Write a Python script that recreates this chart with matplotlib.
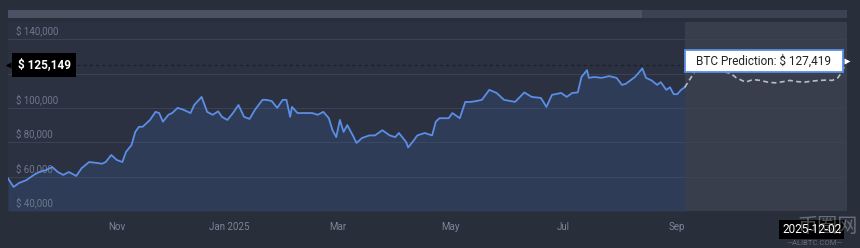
import matplotlib
matplotlib.use("Agg")
import matplotlib.pyplot as plt
import matplotlib.transforms as mtransforms
from matplotlib.patches import Rectangle
import numpy as np
import pandas as pd

plt.rcParams['font.family'] = ['Roboto', 'Noto Sans CJK SC', 'DejaVu Sans']

# ---------------- data ----------------
hist_dates = [
    "2024-09-03", "2024-09-06", "2024-09-09", "2024-09-13", "2024-09-17", "2024-09-20",
    "2024-09-24", "2024-09-27", "2024-09-30", "2024-10-03", "2024-10-06", "2024-10-10",
    "2024-10-13", "2024-10-17", "2024-10-21", "2024-10-24", "2024-10-26", "2024-10-29",
    "2024-11-01", "2024-11-04", "2024-11-06", "2024-11-09", "2024-11-11", "2024-11-13",
    "2024-11-15", "2024-11-17", "2024-11-19", "2024-11-22", "2024-11-24", "2024-11-26",
    "2024-11-29", "2024-12-01", "2024-12-04", "2024-12-07", "2024-12-11", "2024-12-13",
    "2024-12-17", "2024-12-20", "2024-12-23", "2024-12-26", "2024-12-28", "2024-12-31",
    "2025-01-03", "2025-01-06", "2025-01-09", "2025-01-12", "2025-01-15", "2025-01-19",
    "2025-01-21", "2025-01-24", "2025-01-27", "2025-01-30", "2025-02-01", "2025-02-03",
    "2025-02-04", "2025-02-07", "2025-02-11", "2025-02-15", "2025-02-18", "2025-02-21",
    "2025-02-24", "2025-02-26", "2025-02-28", "2025-03-02", "2025-03-04", "2025-03-06",
    "2025-03-09", "2025-03-11", "2025-03-14", "2025-03-18", "2025-03-21", "2025-03-25",
    "2025-03-29", "2025-04-01", "2025-04-03", "2025-04-07", "2025-04-08", "2025-04-11",
    "2025-04-13", "2025-04-17", "2025-04-21", "2025-04-23", "2025-04-25", "2025-04-30",
    "2025-05-02", "2025-05-06", "2025-05-09", "2025-05-12", "2025-05-15", "2025-05-18",
    "2025-05-22", "2025-05-26", "2025-05-30", "2025-06-05", "2025-06-10", "2025-06-14",
    "2025-06-19", "2025-06-22", "2025-06-25", "2025-06-30", "2025-07-03", "2025-07-06",
    "2025-07-09", "2025-07-11", "2025-07-14", "2025-07-15", "2025-07-18", "2025-07-22",
    "2025-07-26", "2025-07-30", "2025-08-02", "2025-08-04", "2025-08-09", "2025-08-11",
    "2025-08-13", "2025-08-15", "2025-08-18", "2025-08-21", "2025-08-23", "2025-08-26",
    "2025-08-28", "2025-08-30", "2025-09-01", "2025-09-03", "2025-09-05",
]
hist_prices = [
    59000, 54000, 56300, 58000, 61000, 62700,
    64000, 65600, 62700, 61000, 62700, 60400,
    65000, 68500, 68000, 67500, 68500, 72600,
    69700, 68500, 74400, 78400, 86000, 89000,
    89000, 91000, 93000, 97700, 97000, 92000,
    96000, 97000, 100000, 99000, 97000, 101700,
    106400, 97700, 96000, 98000, 94800, 93000,
    97000, 101700, 94800, 93600, 99000, 104700,
    104700, 104000, 100000, 104700, 104700, 94800,
    100600, 97000, 97000, 97000, 96000, 97700,
    94000, 87000, 83000, 93000, 86000, 90000,
    84000, 79600, 82500, 84000, 84000, 87000,
    84000, 83000, 85400, 80000, 77000, 81000,
    84000, 85400, 84000, 92000, 94000, 94000,
    97000, 94000, 103500, 103500, 104000, 104700,
    110500, 108700, 104700, 103500, 109000, 106400,
    105800, 100600, 107600, 108700, 106400, 108700,
    109000, 118000, 122000, 117500, 118000, 117500,
    118500, 117500, 113400, 114000, 118000, 120400,
    123000, 117500, 116000, 113400, 115000, 110500,
    112000, 108000, 108000, 110500, 112000,
]

pred_dates = [
    "2025-09-05", "2025-09-08", "2025-09-11", "2025-09-20", "2025-09-30",
    "2025-10-03", "2025-10-08", "2025-10-12", "2025-10-16", "2025-10-20",
    "2025-10-24", "2025-10-28", "2025-11-01", "2025-11-05", "2025-11-09",
    "2025-11-13", "2025-11-17", "2025-11-21", "2025-11-24", "2025-11-27",
    "2025-11-29", "2025-12-02",
]
pred_prices = [
    112000, 117000, 122000, 123000, 120000,
    117500, 115000, 116500, 116000, 115000,
    114600, 115200, 116000, 115300, 115000,
    115600, 116000, 116200, 116000, 117500,
    120500, 127419,
]

current_price = 125149
prediction_label = "BTC Prediction: $ 127,419"
current_label = "$ 125,149"
end_label = "2025-12-02"
grid_values = [40000, 60000, 80000, 100000, 120000, 140000]
ylabel_values = [40000, 60000, 80000, 100000, 140000]   # $120,000 is hidden by the tooltip
xtick_dates = ["2024-11-01", "2025-01-01", "2025-03-01", "2025-05-01", "2025-07-01", "2025-09-01"]
xtick_labels = ["Nov", "Jan 2025", "Mar", "May", "Jul", "Sep"]
x_start, x_end = "2024-09-03", "2025-12-02"

# ---------------- style ----------------
FIG_BG = "#292e3b"
AX_BG = "#2b3141"
GRID = "#3a4253"
LINE = "#5b8ee6"
PRED_BG = "#383e4c"
LABEL = "#6f788a"

hd = pd.to_datetime(hist_dates)
pdts = pd.to_datetime(pred_dates)
hp = np.array(hist_prices)
pp = np.array(pred_prices)

fig = plt.figure(figsize=(8.6, 2.48), dpi=100, facecolor=FIG_BG)
ax = fig.add_axes([8 / 860, 1 - 211 / 248, (847 - 8) / 860, (211 - 22) / 248])
ax.set_facecolor(AX_BG)

ax.set_xlim(pd.Timestamp(x_start), pd.Timestamp(x_end))
ax.set_ylim(40000, 150000)

# prediction shaded region
ax.axvspan(hd[-1], pd.Timestamp(x_end), color=PRED_BG, zorder=0.5, lw=0)

# grid lines
for v in grid_values:
    ax.axhline(v, color=GRID, lw=0.8, zorder=1)

# y labels inside plot
blend = mtransforms.blended_transform_factory(ax.transAxes, ax.transData)
for v in ylabel_values:
    ax.annotate(f"$ {v:,}", xy=(0, v), xycoords=blend, xytext=(6, 2),
                textcoords="offset points", ha="left", va="bottom",
                fontsize=7, color=LABEL, zorder=2)

# area + line
ax.fill_between(hd, hp, 40000, color="#3b5a96", alpha=0.28, lw=0, zorder=1.5)
ax.plot(hd, hp, color=LINE, lw=1.3, zorder=3, solid_joinstyle="round")

# current price dashed line
ax.plot([pd.Timestamp(x_start), hd[-1]], [current_price, current_price],
        color="#1b1f29", lw=0.9, ls=(0, (2.5, 2.5)), zorder=2)

# prediction dashed line
ax.plot(pdts, pp, color="#b9bdc6", lw=1.2, ls=(0, (3, 2)), zorder=3)

# x ticks
ax.set_xticks(pd.to_datetime(xtick_dates))
ax.set_xticklabels(xtick_labels)
ax.tick_params(axis="x", length=0, pad=8, labelsize=7, labelcolor="#7c8597")
ax.tick_params(axis="y", left=False, labelleft=False)
for s in ax.spines.values():
    s.set_visible(False)

# left tooltip (current price)
ax.annotate(current_label, xy=(0, current_price), xycoords=blend, xytext=(7, 0),
            textcoords="offset points", ha="left", va="center", fontsize=8.5,
            fontweight="bold", color="white", zorder=6,
            bbox=dict(boxstyle="square,pad=0.45", fc="black", ec="none"))
ax.plot([0.0], [current_price], marker="<", ms=5, color="black", transform=blend,
        clip_on=False, zorder=6, mec="none")

# right tooltip (prediction): box sized in inches around the last prediction point
anchor = mtransforms.ScaledTranslation(mdates_x := ax.convert_xunits(pdts[-1]), pp[-1], ax.transData)
box_tr = fig.dpi_scale_trans + anchor
ax.add_patch(Rectangle((-1.62, -0.11), 1.58, 0.22, transform=box_tr, fc="white",
                       ec=LINE, lw=1.3, zorder=6, clip_on=False))
ax.annotate(prediction_label, xy=(pdts[-1], pp[-1]), xytext=(-0.83 * 72, 0),
            textcoords="offset points", ha="center", va="center", fontsize=8.5,
            color="#222222", zorder=7)
ax.plot([pdts[-1]], [pp[-1]], marker=">", ms=5, color="white", mec="none",
        clip_on=False, zorder=7)

# top navigator band
fig.patches.append(Rectangle((8 / 860, 1 - 18 / 248), (847 - 8) / 860, 8 / 248,
                             transform=fig.transFigure, fc="#3b4252", ec="none"))
fig.patches.append(Rectangle((8 / 860, 1 - 18 / 248), (642 - 8) / 860, 8 / 248,
                             transform=fig.transFigure, fc="#4a5264", ec="none"))

# end-date label below axis
ax.annotate(end_label, xy=(1, 0), xycoords="axes fraction", xytext=(-4, -13),
            textcoords="offset points", ha="right", va="center", fontsize=8.5,
            color="white", zorder=6,
            bbox=dict(boxstyle="square,pad=0.25", fc="black", ec="none"))

# watermark
fig.text(828 / 860, 1 - 227 / 248, "币圈网", fontsize=14.5, color="white", alpha=0.3,
         ha="center", va="center", family=["Noto Sans CJK SC", "DejaVu Sans"], zorder=8)
fig.text(815 / 860, 1 - 243 / 248, "—ALIBTC.COM—", fontsize=5.5, color="white", alpha=0.3,
         ha="center", va="center", zorder=8)

fig.savefig("out.png", dpi=100, facecolor=FIG_BG)
